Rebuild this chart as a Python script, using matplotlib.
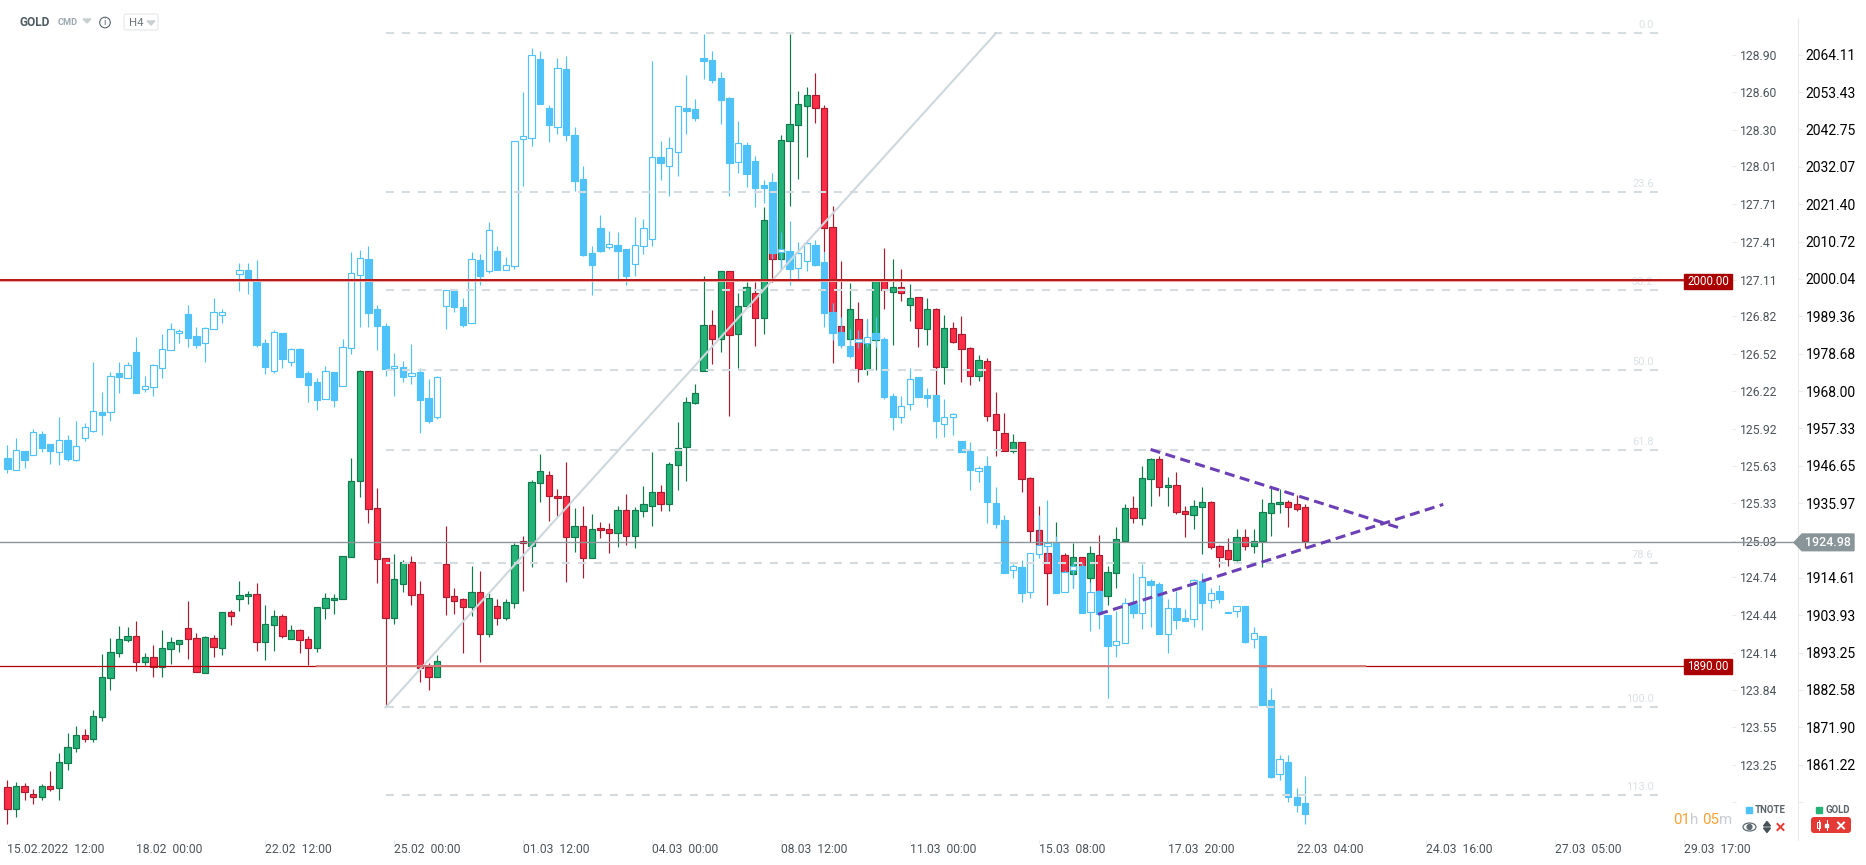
import matplotlib
matplotlib.use("Agg")
import matplotlib.pyplot as plt
import numpy as np
from matplotlib.patches import Circle, Ellipse, FancyBboxPatch, Polygon, Rectangle

plt.rcParams["font.family"] = ["Roboto", "DejaVu Sans"]

# GOLD H4 candles: G = up, R = down
gold_dir = ("RGRRGRGGGR" "GGGGGRGRGG" "GRRGRGRGGR" "GGRGRRGGGG" "GGRRRGGRRR"
            "GRRRGRGRGG" "RGGRRRGRGR" "RGRGGGRGGG" "GGRGRGGRGR" "GGGGRRRRGR"
            "GGRGRGRGRG" "RRRGRRRGRR" "RRGRGRGRGG" "GRGGRGRRGG" "RRRGRGGGGR" "RR")
gold_high = [
    1856.9, 1856.3, 1855.9, 1854.2, 1855.6, 1859.4, 1864.6, 1870.3, 1872.3, 1871.4,
    1876.8, 1892.9, 1897.3, 1900.9, 1900.6, 1902.3, 1893.0, 1895.4, 1899.7, 1897.7,
    1896.8, 1908.0, 1898.8, 1897.9, 1898.2, 1904.8, 1905.3, 1913.7, 1910.8, 1913.1,
    1906.9, 1905.4, 1904.3, 1901.1, 1899.9, 1897.9, 1906.2, 1910.2, 1910.0, 1920.8,
    1948.9, 1974.0, 1973.7, 1940.3, 1920.2, 1921.4, 1919.7, 1920.8, 1913.6, 1890.2,
    1892.6, 1929.4, 1911.6, 1908.8, 1918.0, 1916.6, 1910.4, 1908.6, 1908.6, 1924.5,
    1926.6, 1942.6, 1950.0, 1945.0, 1939.9, 1947.6, 1934.6, 1935.1, 1932.9, 1930.6,
    1930.3, 1935.1, 1938.6, 1934.8, 1940.9, 1950.6, 1941.1, 1947.6, 1959.1, 1966.3,
    1970.0, 2000.8, 1991.1, 2002.2, 2002.2, 1995.9, 1999.2, 1999.2, 2020.5, 2018.8,
    2041.1, 2069.9, 2053.7, 2054.9, 2058.8, 2049.6, 2021.0, 2005.1, 1998.8, 1993.3,
    1988.6, 1999.4, 2008.8, 2005.7, 2003.0, 1998.6, 1994.8, 1994.5, 1991.7, 1989.7,
    1987.6, 1989.4, 1980.5, 1978.3, 1977.3, 1967.6, 1961.7, 1955.7, 1953.3, 1943.3,
    1935.1, 1924.0, 1930.6, 1921.8, 1924.7, 1920.5, 1923.7, 1926.8, 1918.0, 1929.0,
    1935.6, 1938.0, 1946.5, 1948.8, 1949.4, 1943.3, 1944.8, 1935.1, 1936.8, 1940.5,
    1936.5, 1924.0, 1925.9, 1928.5, 1928.5, 1928.5, 1937.0, 1940.5, 1939.9, 1936.8,
    1938.2, 1935.6,
]
gold_top = [
    1854.8, 1855.1, 1855.1, 1852.8, 1855.1, 1855.1, 1861.9, 1866.2, 1869.6, 1869.6,
    1875.0, 1886.2, 1893.3, 1897.1, 1897.9, 1897.9, 1891.9, 1891.9, 1894.5, 1896.2,
    1896.8, 1900.2, 1897.3, 1897.6, 1897.3, 1904.8, 1904.8, 1909.6, 1909.9, 1909.9,
    1901.3, 1903.6, 1903.6, 1899.6, 1899.6, 1897.1, 1906.2, 1908.8, 1908.8, 1920.8,
    1942.2, 1973.7, 1973.7, 1934.5, 1920.2, 1914.2, 1919.1, 1919.1, 1909.9, 1889.1,
    1890.8, 1918.5, 1909.3, 1908.5, 1910.5, 1910.5, 1908.8, 1906.5, 1907.6, 1923.9,
    1925.0, 1941.9, 1945.0, 1943.9, 1937.9, 1937.9, 1929.3, 1929.3, 1928.5, 1928.8,
    1928.5, 1933.9, 1933.9, 1933.9, 1935.6, 1939.1, 1939.1, 1947.0, 1951.6, 1965.0,
    1967.3, 1987.0, 1987.0, 2002.2, 2002.2, 1992.2, 1997.6, 1995.9, 2016.8, 2016.8,
    2039.6, 2044.2, 2049.9, 2052.5, 2052.5, 2049.0, 2014.8, 1986.6, 1991.3, 1988.5,
    1983.0, 1999.4, 1999.4, 1997.6, 1997.6, 1994.5, 1994.8, 1991.3, 1991.3, 1985.9,
    1985.9, 1984.2, 1980.2, 1976.8, 1976.5, 1961.3, 1955.9, 1953.3, 1953.3, 1943.0,
    1928.2, 1921.6, 1921.0, 1921.0, 1920.5, 1920.5, 1921.6, 1921.0, 1916.2, 1925.6,
    1934.5, 1934.5, 1943.0, 1948.5, 1948.5, 1941.0, 1941.0, 1933.6, 1935.0, 1936.2,
    1936.2, 1923.6, 1922.5, 1926.2, 1926.2, 1925.0, 1933.3, 1935.9, 1936.2, 1936.2,
    1935.6, 1934.8,
]
gold_bottom = [
    1848.5, 1848.5, 1853.3, 1851.9, 1851.9, 1854.2, 1854.5, 1861.6, 1865.9, 1868.5,
    1868.5, 1874.8, 1885.9, 1893.0, 1896.8, 1890.5, 1890.5, 1889.1, 1889.1, 1894.2,
    1895.6, 1897.1, 1887.6, 1887.3, 1894.8, 1894.5, 1903.6, 1908.5, 1909.3, 1896.2,
    1896.2, 1901.1, 1897.9, 1897.1, 1896.8, 1894.5, 1894.5, 1905.9, 1908.2, 1908.5,
    1920.5, 1942.2, 1934.2, 1919.9, 1903.2, 1903.2, 1912.8, 1909.8, 1888.8, 1886.2,
    1886.2, 1909.0, 1908.1, 1906.2, 1906.2, 1898.5, 1898.5, 1903.1, 1903.1, 1907.3,
    1924.5, 1923.6, 1941.6, 1937.9, 1937.3, 1926.2, 1926.2, 1920.2, 1920.2, 1928.2,
    1927.3, 1927.3, 1926.5, 1926.5, 1933.6, 1935.1, 1935.6, 1935.6, 1946.8, 1951.9,
    1964.6, 1973.6, 1982.8, 1982.8, 1983.9, 1984.2, 1992.2, 1988.8, 1988.8, 2005.6,
    2005.6, 2039.3, 2043.9, 2049.3, 2048.8, 2014.5, 1986.6, 1982.9, 1982.9, 1974.4,
    1974.4, 1982.6, 1996.9, 1996.4, 1995.9, 1992.5, 1985.9, 1985.6, 1974.8, 1974.8,
    1982.1, 1979.9, 1972.2, 1972.2, 1961.0, 1956.8, 1950.8, 1950.8, 1942.8, 1927.9,
    1924.0, 1915.9, 1915.9, 1916.4, 1915.6, 1914.5, 1914.5, 1909.3, 1909.3, 1915.9,
    1925.2, 1931.6, 1931.6, 1942.8, 1940.5, 1940.5, 1933.3, 1932.8, 1932.5, 1934.8,
    1923.3, 1920.7, 1919.9, 1919.6, 1923.6, 1923.6, 1925.0, 1933.1, 1935.6, 1934.8,
    1934.2, 1925.0,
]
gold_low = [
    1844.3, 1846.4, 1851.1, 1850.0, 1851.1, 1853.6, 1851.1, 1859.7, 1864.9, 1867.8,
    1867.8, 1873.8, 1882.6, 1892.0, 1896.3, 1888.0, 1889.6, 1886.3, 1886.3, 1890.0,
    1893.3, 1891.4, 1887.6, 1887.3, 1892.0, 1892.6, 1901.1, 1905.1, 1907.2, 1893.7,
    1891.2, 1893.7, 1897.3, 1897.1, 1893.2, 1889.6, 1893.4, 1902.9, 1904.3, 1908.5,
    1920.5, 1937.8, 1930.4, 1913.1, 1877.8, 1901.4, 1910.6, 1906.9, 1884.9, 1882.6,
    1886.2, 1904.0, 1904.3, 1893.2, 1903.8, 1890.6, 1897.7, 1901.1, 1902.7, 1906.1,
    1910.9, 1917.8, 1936.4, 1930.9, 1932.2, 1913.4, 1922.1, 1914.6, 1920.2, 1926.1,
    1921.8, 1923.5, 1924.1, 1923.2, 1932.1, 1929.5, 1933.8, 1933.8, 1939.7, 1942.4,
    1964.3, 1973.6, 1975.7, 1979.1, 1960.9, 1974.5, 1991.6, 1980.8, 1984.3, 1999.2,
    2002.6, 2021.0, 2028.6, 2034.9, 2044.6, 2007.8, 1975.9, 1980.6, 1980.6, 1970.6,
    1972.6, 1974.0, 1991.4, 1981.1, 1993.8, 1988.1, 1980.6, 1981.1, 1966.9, 1970.0,
    1981.8, 1970.6, 1969.7, 1970.9, 1959.4, 1949.4, 1950.8, 1950.2, 1939.2, 1924.8,
    1924.0, 1906.8, 1914.9, 1916.4, 1911.6, 1914.5, 1913.0, 1907.3, 1906.8, 1911.8,
    1924.9, 1930.4, 1929.8, 1935.1, 1938.1, 1935.2, 1932.8, 1926.4, 1928.7, 1921.5,
    1922.9, 1917.8, 1918.1, 1919.3, 1922.6, 1921.8, 1917.8, 1926.7, 1933.0, 1929.2,
    1933.6, 1923.1,
]

# TNOTE candles: U = up (hollow), D = down (filled), - = no bar
tnote_dir = ("DUDUDDUDUU" "UDUDUDUUUU" "UDDUUU-UDD" "DUDUDDDUDU" "UUDDDUDUDD"
             "UUDDUDUDUU" "UUDDUDDDDD" "UDDUUUDUUD" "DDDDDUDDDD" "UDUUDDDDDU"
             "UDDDUUDDDU" "UDDUDDDUDU" "UUDUUDUDDU" "UDUDDUDDUD" "UDUUDUDDUD" "DD")
tnote_high = [
    125.794, 125.847, 125.743, 125.918, 125.905, 125.799, 126.019, 125.873, 125.985, 125.966,
    126.454, 126.216, 126.372, 126.452, 126.452, 126.651, 126.340, 126.436, 126.674, 126.765,
    126.714, 126.908, 126.733, 126.733, 126.964, 126.876, None, 127.239, 127.239, 127.263,
    126.635, 126.706, 126.685, 126.563, 126.563, 126.383, 126.324, 126.420, 126.372, 126.635,
    127.327, 127.343, 127.375, 126.905, 126.765, 126.523, 126.460, 126.598, 126.404, 126.319,
    126.340, 127.025, 127.025, 126.961, 127.327, 127.311, 127.566, 127.375, 127.290, 128.210,
    128.600, 128.953, 128.926, 128.497, 128.871, 128.889, 128.324, 128.011, 127.375, 127.624,
    127.494, 127.486, 127.351, 127.606, 127.590, 128.850, 128.213, 128.245, 128.489, 128.738,
    128.547, 129.062, 128.929, 128.762, 128.560, 128.372, 128.205, 128.094, 127.900, 127.956,
    127.486, 127.574, 127.407, 127.422, 127.422, 127.330, 126.921, 126.810, 126.717, 126.709,
    126.796, 126.810, 126.651, 126.205, 126.181, 126.404, 126.335, 126.245, 126.189, 126.160,
    126.046, 125.823, 125.815, 125.624, 125.707, 125.457, 125.237, 124.844, 124.879, 124.932,
    125.237, 125.354, 125.070, 124.799, 124.852, 124.852, 124.707, 124.640, 124.439, 124.476,
    124.574, 124.773, 124.844, 124.725, 124.701, 124.569, 124.632, 124.489, 124.728, 124.773,
    124.653, 124.677, 124.468, 124.516, 124.513, 124.343, 124.274, 123.860, 123.324, 123.327,
    123.061, 123.160,
]
tnote_top = [
    125.690, 125.751, 125.743, 125.894, 125.879, 125.799, 125.831, 125.831, 125.783, 125.934,
    126.067, 126.054, 126.346, 126.364, 126.428, 126.531, 126.266, 126.428, 126.555, 126.714,
    126.698, 126.834, 126.659, 126.722, 126.849, 126.849, None, 127.184, 127.184, 127.096,
    126.603, 126.690, 126.685, 126.555, 126.555, 126.364, 126.292, 126.380, 126.372, 126.571,
    127.160, 127.279, 127.271, 126.873, 126.738, 126.425, 126.412, 126.364, 126.372, 126.165,
    126.332, 127.025, 127.025, 126.889, 127.271, 127.263, 127.502, 127.335, 127.224, 128.210,
    128.250, 128.895, 128.863, 128.473, 128.791, 128.783, 128.258, 127.908, 127.319, 127.518,
    127.391, 127.383, 127.351, 127.383, 127.518, 128.083, 128.083, 128.155, 128.489, 128.473,
    128.465, 128.871, 128.855, 128.712, 128.552, 128.194, 128.178, 128.051, 127.860, 127.884,
    127.351, 127.335, 127.319, 127.399, 127.383, 127.250, 126.849, 126.693, 126.579, 126.635,
    126.656, 126.682, 126.635, 126.181, 126.107, 126.322, 126.335, 126.189, 126.189, 126.014,
    126.038, 125.823, 125.744, 125.608, 125.624, 125.330, 125.195, 124.829, 124.821, 124.932,
    124.996, 125.012, 125.017, 124.781, 124.829, 124.834, 124.627, 124.630, 124.439, 124.237,
    124.534, 124.526, 124.741, 124.709, 124.685, 124.494, 124.494, 124.415, 124.722, 124.709,
    124.619, 124.630, 124.468, 124.516, 124.513, 124.295, 124.274, 123.764, 123.292, 123.271,
    122.990, 122.942,
]
tnote_bottom = [
    125.600, 125.592, 125.672, 125.711, 125.767, 125.743, 125.735, 125.680, 125.672, 125.847,
    125.903, 126.035, 126.054, 126.338, 126.324, 126.210, 126.237, 126.253, 126.404, 126.547,
    126.682, 126.648, 126.592, 126.603, 126.714, 126.826, None, 127.152, 127.112, 126.592,
    126.417, 126.380, 126.478, 126.452, 126.338, 126.274, 126.155, 126.157, 126.155, 126.261,
    126.563, 127.144, 126.847, 126.743, 126.401, 126.404, 126.338, 126.340, 126.155, 125.987,
    126.014, 126.897, 126.895, 126.751, 126.762, 127.141, 127.176, 127.184, 127.184, 127.216,
    128.226, 128.234, 128.505, 128.340, 128.322, 128.263, 127.897, 127.306, 127.226, 127.338,
    127.367, 127.340, 127.139, 127.231, 127.375, 127.430, 128.041, 128.011, 128.123, 128.454,
    128.399, 128.852, 128.701, 128.542, 128.041, 128.043, 127.953, 127.842, 127.842, 127.324,
    127.327, 127.197, 127.200, 127.255, 127.226, 126.847, 126.682, 126.592, 126.505, 126.611,
    126.608, 126.635, 126.178, 126.014, 126.014, 126.117, 126.178, 126.171, 125.988, 125.964,
    126.014, 125.741, 125.598, 125.590, 125.343, 125.168, 124.775, 124.797, 124.619, 124.622,
    124.924, 124.988, 124.619, 124.622, 124.797, 124.460, 124.462, 124.452, 124.197, 124.200,
    124.216, 124.460, 124.455, 124.677, 124.293, 124.287, 124.404, 124.396, 124.407, 124.539,
    124.563, 124.571, 124.455, 124.470, 124.229, 124.248, 123.725, 123.154, 123.173, 122.990,
    122.931, 122.860,
]
tnote_low = [
    125.568, 125.592, 125.608, 125.711, 125.741, 125.640, 125.632, 125.664, 125.664, 125.828,
    125.897, 125.876, 125.987, 126.210, 126.324, 126.210, 126.218, 126.186, 126.330, 126.547,
    126.605, 126.576, 126.566, 126.457, 126.714, 126.765, None, 127.019, 126.995, 126.576,
    126.359, 126.369, 126.407, 126.425, 126.338, 126.139, 126.075, 126.157, 126.099, 126.261,
    126.521, 126.733, 126.733, 126.550, 126.343, 126.186, 126.298, 126.282, 125.892, 125.971,
    125.998, 126.720, 126.855, 126.735, 126.762, 127.070, 127.160, 127.184, 127.184, 127.192,
    127.855, 128.173, 128.505, 128.205, 128.269, 128.213, 127.815, 127.298, 126.987, 127.330,
    127.353, 127.115, 127.067, 127.139, 127.314, 127.377, 127.903, 127.775, 127.934, 128.269,
    128.372, 128.706, 128.674, 128.348, 127.775, 127.958, 127.847, 127.688, 127.720, 127.271,
    127.192, 127.064, 127.107, 127.178, 127.218, 126.735, 126.629, 126.566, 126.486, 126.566,
    126.574, 126.576, 126.163, 125.913, 125.971, 126.075, 126.178, 126.099, 125.850, 125.860,
    125.874, 125.741, 125.436, 125.500, 125.171, 125.136, 124.775, 124.733, 124.545, 124.577,
    124.892, 124.852, 124.619, 124.622, 124.653, 124.460, 124.314, 124.330, 123.778, 124.110,
    124.216, 124.415, 124.333, 124.348, 124.293, 124.141, 124.333, 124.396, 124.348, 124.319,
    124.500, 124.534, 124.455, 124.428, 124.221, 124.181, 123.725, 123.146, 123.128, 122.955,
    122.873, 122.778,
]

# axes labels
time_ticks = [0, 15, 30, 45, 60, 75, 90, 105, 120, 135, 150, 165, 180, 195]
time_labels = ["15.02.2022  12:00", "18.02  00:00", "22.02  12:00", "25.02  00:00",
               "01.03  12:00", "04.03  00:00", "08.03  12:00", "11.03  00:00",
               "15.03  08:00", "17.03  20:00", "22.03  04:00", "24.03  16:00",
               "27.03  05:00", "29.03  17:00"]
gold_ticks = [2064.11, 2053.43, 2042.75, 2032.07, 2021.40, 2010.72, 2000.04, 1989.36,
              1978.68, 1968.00, 1957.33, 1946.65, 1935.97, 1914.61, 1903.93,
              1893.25, 1882.58, 1871.90, 1861.22]
tnote_ticks = [128.90, 128.60, 128.30, 128.01, 127.71, 127.41, 127.11, 126.82, 126.52,
               126.22, 125.92, 125.63, 125.33, 125.03, 124.74, 124.44, 124.14, 123.84,
               123.55, 123.25]

# drawing objects on the gold scale
fib_labels = ["0.0", "23.6", "38.2", "50.0", "61.8", "78.6", "100.0", "113.0"]
fib_prices = [2070.2, 2024.8, 1996.8, 1973.9, 1951.0, 1918.8, 1877.6, 1852.5]
fib_start, fib_end = 44, 192
fib_trend_x = [44, 115]
fib_trend_y = [1877.6, 2070.2]
wedge_upper_x = [133.0, 162.2]
wedge_upper_y = [1951.3, 1928.7]
wedge_lower_x = [126.9, 167.05]
wedge_lower_y = [1904.2, 1935.6]
level_2000, level_1890, last_price = 1999.6, 1889.5, 1924.76

GOLD_FILL, GOLD_EDGE = "#25b277", "#107a4c"
RED_FILL, RED_EDGE = "#ff2d46", "#a91c30"
BLUE = "#4fc3f9"
TICK_TEXT = "#4c5459"
TICK_LINE = "#e8ebed"
DARK_RED = "#b00000"
GREY = "#8a9599"

W, H = 1866, 865
AX_RIGHT, AX_BOTTOM = 1732, 840


def draw_candles(ax, x, top, bottom, high, low, fill, edge, wick):
    ax.vlines(x, low, high, colors=wick, linewidth=0.85, zorder=2)
    ax.bar(x, top - bottom, bottom=bottom, width=0.74, color=fill, edgecolor=edge,
           linewidth=0.85, zorder=3)


fig = plt.figure(figsize=(W / 100, H / 100), dpi=100, facecolor="white")
pos = [0, 1 - AX_BOTTOM / H, AX_RIGHT / W, AX_BOTTOM / H]
ax = fig.add_axes(pos)
ax.set_xlim(-0.853, 200.64)
ax.set_ylim(1839.70, 2079.73)

x = np.arange(len(gold_high))

# gold first, the tnote bars sit on top of it
g_high, g_low = np.array(gold_high), np.array(gold_low)
g_top, g_bottom = np.array(gold_top), np.array(gold_bottom)
is_up = np.array([c == "G" for c in gold_dir])
draw_candles(ax, x[is_up], g_top[is_up], g_bottom[is_up], g_high[is_up], g_low[is_up],
             GOLD_FILL, GOLD_EDGE, GOLD_EDGE)
draw_candles(ax, x[~is_up], g_top[~is_up], g_bottom[~is_up], g_high[~is_up], g_low[~is_up],
             RED_FILL, RED_EDGE, RED_EDGE)

ax.set_xticks(time_ticks)
ax.set_xticklabels(time_labels, ha="left", fontsize=8.7, color=TICK_TEXT)
ax.tick_params(axis="x", length=2, width=0.8, color=TICK_LINE, pad=0.5)

ax_tnote = ax.twinx()
ax_tnote.set_ylim(122.650, 129.335)
t_high, t_low = np.array(tnote_high, dtype=float), np.array(tnote_low, dtype=float)
t_top, t_bottom = np.array(tnote_top, dtype=float), np.array(tnote_bottom, dtype=float)
hollow = np.array([c == "U" for c in tnote_dir])
filled = np.array([c == "D" for c in tnote_dir])
draw_candles(ax_tnote, x[filled], t_top[filled], t_bottom[filled], t_high[filled], t_low[filled],
             BLUE, BLUE, BLUE)
draw_candles(ax_tnote, x[hollow], t_top[hollow], t_bottom[hollow], t_high[hollow], t_low[hollow],
             "white", BLUE, BLUE)
ax_tnote.set_yticks(tnote_ticks + [122.95])
ax_tnote.set_yticklabels([f"{v:.2f}" for v in tnote_ticks] + [""], fontsize=8.7, color=TICK_TEXT)
ax_tnote.tick_params(axis="y", length=3, width=0.8, color=TICK_LINE, pad=3)
for spine in ax_tnote.spines.values():
    spine.set_visible(False)

# twinx moves the gold ticks to the left, so set them up after it
ax.yaxis.tick_right()
ax.set_yticks(gold_ticks + [1850.54])
ax.set_yticklabels([f"{v:.2f}" for v in gold_ticks] + [""], fontsize=8.7, color=TICK_TEXT)
ax.tick_params(axis="y", length=3.5, width=0.8, color=TICK_LINE, pad=2)
for side in ["top", "left", "bottom"]:
    ax.spines[side].set_visible(False)
ax.spines["right"].set_visible(True)
ax.spines["right"].set_position(("outward", 66 * 0.72))
ax.spines["right"].set_color(TICK_LINE)
ax.spines["right"].set_bounds(1839.70, 2074.6)

# lines and drawing tools go over the candles
ax_lines = fig.add_axes(pos)
ax_lines.set_xlim(ax.get_xlim())
ax_lines.set_ylim(ax.get_ylim())
ax_lines.axis("off")
ax_lines.patch.set_visible(False)

for price in fib_prices:
    ax_lines.plot([fib_start, fib_end], [price, price], color="#d3dce0", linewidth=1.5,
                  dashes=(3.84, 3.84), dash_capstyle="butt", zorder=3)
for label, price in zip(fib_labels, fib_prices):
    ax_lines.annotate(label, (fib_end, price), xytext=(-3, 2.5), textcoords="offset points",
                      ha="right", va="bottom", fontsize=8, color="#dbe1e5", zorder=3)
ax_lines.plot(fib_trend_x, fib_trend_y, color="#ced7dc", linewidth=1.5, zorder=4)

ax_lines.plot([-1, 195], [level_2000, level_2000], color="#e9a7a7", linewidth=2.2, zorder=5)
ax_lines.plot([-1, 195], [level_2000, level_2000], color=DARK_RED, linewidth=1.2, zorder=5)
ax_lines.plot([-1, 195], [level_1890, level_1890], color=DARK_RED, linewidth=0.9, zorder=5)
ax_lines.plot([36, 158], [level_1890, level_1890], color="#d77c7c", linewidth=1.4, zorder=5)
ax_lines.plot([-1, 207.8], [last_price, last_price], color=GREY, linewidth=1.0,
              clip_on=False, zorder=5)

for xs, ys in [(wedge_upper_x, wedge_upper_y), (wedge_lower_x, wedge_lower_y)]:
    ax_lines.plot(xs, ys, color="#6b3fb5", linewidth=2.2, dashes=(3.3, 1.8),
                  dash_capstyle="butt", zorder=6)

# page furniture in pixel coordinates
chrome = fig.add_axes([0, 0, 1, 1])
chrome.set_xlim(0, W)
chrome.set_ylim(H, 0)
chrome.axis("off")
chrome.patch.set_visible(False)

chrome.text(20, 22.5, "GOLD", fontsize=8.6, fontweight="bold", color="#4f5b62", va="center")
chrome.text(58, 22.5, "CMD", fontsize=6.6, fontweight="bold", color="#9aa8b0", va="center")
chrome.add_patch(Polygon([(83, 19), (91, 19), (87, 23)], color="#c9ced1"))
chrome.add_patch(Circle((105, 22.5), 5.3, fill=False, edgecolor="#5a666c", linewidth=0.8))
chrome.text(105, 22.5, "i", fontsize=6.8, color="#5a666c", ha="center", va="center")
chrome.add_patch(FancyBboxPatch((124, 14), 34, 16, boxstyle="round,pad=0,rounding_size=2",
                                fill=False, edgecolor="#e8eaec", linewidth=0.9))
chrome.text(128.5, 22.5, "H4", fontsize=8.2, color="#6b757b", va="center")
chrome.add_patch(Polygon([(147, 21), (155, 21), (151, 25)], color="#c9ced1"))

for top, bottom, text in [(274, 288.7, "2000.00"), (659, 674, "1890.00")]:
    chrome.add_patch(Rectangle((1684, top), 48, bottom - top, color="#ab0000", zorder=5))
    chrome.text(1708, (top + bottom) / 2 - 0.3, text, fontsize=8.3, color="white",
                ha="center", va="center", zorder=6)

chrome.add_patch(Polygon([(1794, 542.5), (1802, 534), (1854, 534), (1854, 550.7), (1802, 550.7)],
                         color=GREY, zorder=5))
chrome.text(1828, 542.7, "1924.98", fontsize=8.9, fontweight="medium", color="white",
            ha="center", va="center", zorder=6)

chrome.text(1673, 820, "01", fontsize=10.8, color="#f7a233", va="center")
chrome.text(1690, 820, "h", fontsize=10.8, color="#c6ccd0", va="center")
chrome.text(1702, 820, "05", fontsize=10.8, color="#f7a233", va="center")
chrome.text(1719, 820, "m", fontsize=10.8, color="#c6ccd0", va="center")

chrome.add_patch(Rectangle((1746, 807), 6, 6, color=BLUE))
chrome.text(1755, 810, "TNOTE", fontsize=6.9, fontweight="bold", color="#5b656b", va="center")
chrome.add_patch(Rectangle((1816, 807), 6, 6, color=GOLD_FILL))
chrome.text(1826, 810, "GOLD", fontsize=6.9, fontweight="bold", color="#5b656b", va="center")

chrome.add_patch(Ellipse((1749.5, 827), 13, 8, fill=False, edgecolor="#5f6b71", linewidth=0.9))
chrome.add_patch(Circle((1749.5, 827), 2.4, color="#5f6b71"))
chrome.add_patch(Polygon([(1763.5, 826), (1770.5, 826), (1767, 821.5)], color="#454f55"))
chrome.add_patch(Polygon([(1763.5, 828), (1770.5, 828), (1767, 832.5)], color="#454f55"))
chrome.plot([1777.5, 1783.5], [824, 830], color="#e53935", linewidth=1.4)
chrome.plot([1777.5, 1783.5], [830, 824], color="#e53935", linewidth=1.4)

chrome.add_patch(FancyBboxPatch((1811, 817), 40, 16, boxstyle="round,pad=0,rounding_size=3",
                                color="#e53935", linewidth=0))
chrome.plot([1818.5, 1818.5], [820, 830], color="white", linewidth=0.7)
chrome.add_patch(Rectangle((1817, 822), 3, 6, facecolor="#e53935", edgecolor="white", linewidth=0.7))
chrome.plot([1826.5, 1826.5], [820, 830], color="white", linewidth=0.7)
chrome.add_patch(Rectangle((1825, 823.5), 3, 3.5, color="white"))
chrome.plot([1838, 1844], [822.5, 828.5], color="white", linewidth=1.4)
chrome.plot([1838, 1844], [828.5, 822.5], color="white", linewidth=1.4)

fig.savefig("out.png", dpi=100, facecolor="white")
